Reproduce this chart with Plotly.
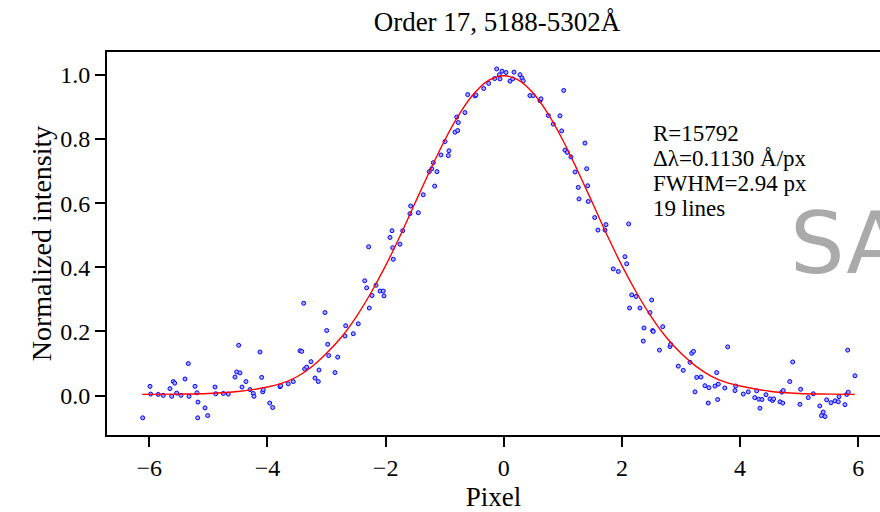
import plotly.graph_objects as go

# ---- data ----
pixel = [
    -6.112, -5.988, -5.977, -5.848, -5.763, -5.650, -5.621, -5.594, -5.570, -5.537,
    -5.464, -5.396, -5.340, -5.328, -5.227, -5.193, -5.176, -5.181, -5.057, -5.012,
    -4.888, -4.876, -4.748, -4.663, -4.550, -4.521, -4.487, -4.465, -4.431, -4.364,
    -4.296, -4.240, -4.228, -4.127, -4.098, -4.081, -4.071, -3.962, -3.912, -3.788,
    -3.776, -3.648, -3.563, -3.449, -3.421, -3.387, -3.370, -3.336, -3.263, -3.196,
    -3.140, -3.128, -3.026, -2.998, -2.981, -2.964, -2.857, -2.811, -2.688, -2.676,
    -2.547, -2.463, -2.354, -2.321, -2.277, -2.231, -2.163, -2.095, -2.040, -2.028,
    -2.287, -1.926, -1.892, -1.880, -1.870, -1.757, -1.711, -1.588, -1.576, -1.447,
    -1.363, -1.261, -1.220, -1.193, -1.170, -1.131, -1.063, -0.995, -0.939, -0.928,
    -0.826, -0.797, -0.780, -0.770, -0.657, -0.611, -0.487, -0.471, -0.340, -0.256,
    -0.154, -0.120, -0.076, -0.064, -0.030, 0.037, 0.105, 0.151, 0.173, 0.274,
    0.308, 0.330, 0.443, 0.499, 0.613, 0.630, 0.753, 0.838, 0.951, 0.980,
    1.014, 1.036, 1.075, 1.137, 1.205, 1.261, 1.273, 1.374, 1.403, 1.420,
    1.430, 1.539, 1.594, 1.713, 1.730, 2.114, 1.853, 1.938, 2.051, 2.080,
    2.165, 2.238, 2.503, 2.128, 2.305, 2.475, 2.373, 2.520, 2.530, 2.690,
    2.361, 2.635, 2.813, 2.825, 2.954, 3.038, 3.152, 3.180, 3.211, 3.236,
    3.265, 3.338, 3.405, 3.461, 3.473, 3.575, 3.604, 3.631, 3.620, 3.741,
    3.790, 3.913, 3.925, 4.054, 4.138, 4.248, 4.281, 4.316, 4.336, 4.370,
    4.438, 4.506, 4.548, 4.568, 4.675, 4.704, 4.731, 4.721, 4.841, 4.890,
    5.013, 5.025, 5.154, 5.239, 5.349, 5.377, 5.406, 5.437, 5.465, 5.538,
    5.606, 5.662, 5.674, 5.775, 5.804, 5.831, 5.821, 5.944,
]
intensity = [
    -0.069, 0.029, 0.005, 0.004, 0.001, 0.022, -0.002, 0.044, 0.039, 0.008,
    0.001, 0.052, 0.100, -0.002, 0.029, 0.009, -0.020, -0.069, -0.038, -0.062,
    0.027, 0.006, 0.007, 0.005, 0.058, 0.074, 0.157, 0.071, 0.027, 0.044,
    0.019, 0.007, -0.002, 0.136, 0.057, 0.012, 0.019, -0.023, -0.037, 0.028,
    0.031, 0.037, 0.044, 0.140, 0.138, 0.288, 0.083, 0.089, 0.106, 0.055,
    0.044, 0.080, 0.259, 0.203, 0.160, 0.125, 0.072, 0.120, 0.186, 0.218,
    0.193, 0.224, 0.358, 0.336, 0.273, 0.312, 0.344, 0.326, 0.326, 0.311,
    0.464, 0.493, 0.514, 0.461, 0.425, 0.472, 0.514, 0.567, 0.591, 0.570,
    0.626, 0.698, 0.707, 0.726, 0.653, 0.698, 0.750, 0.792, 0.748, 0.763,
    0.821, 0.868, 0.826, 0.851, 0.882, 0.938, 0.934, 0.937, 0.957, 0.973,
    0.988, 1.018, 1.000, 0.987, 1.011, 1.007, 0.980, 0.987, 1.008, 1.000,
    0.990, 0.981, 0.935, 0.935, 0.919, 0.925, 0.873, 0.846, 0.872, 0.825,
    0.951, 0.765, 0.758, 0.744, 0.697, 0.649, 0.613, 0.787, 0.707, 0.654,
    0.605, 0.555, 0.516, 0.516, 0.533, 0.535, 0.395, 0.387, 0.433, 0.411,
    0.314, 0.309, 0.298, 0.273, 0.273, 0.259, 0.211, 0.203, 0.200, 0.215,
    0.170, 0.142, 0.153, 0.160, 0.092, 0.079, 0.104, 0.132, 0.138, 0.012,
    0.057, 0.058, 0.031, -0.023, 0.025, 0.030, 0.072, 0.036, -0.012, 0.024,
    0.152, 0.016, 0.030, 0.005, 0.012, -0.006, 0.015, -0.011, -0.039, -0.012,
    0.003, -0.010, -0.015, -0.010, -0.019, 0.011, 0.016, -0.023, 0.044, 0.105,
    -0.027, 0.020, -0.006, 0.006, -0.032, -0.062, -0.051, -0.065, -0.013, -0.022,
    -0.016, -0.019, -0.003, -0.028, 0.004, 0.011, 0.142, 0.062,
]

# fitted profile (red curve)
fit_x = [-6.12, -5.5, -5.0, -4.5, -4.0, -3.75, -3.5, -3.25, -3.0, -2.75,
         -2.5, -2.25, -2.0, -1.75, -1.5, -1.25, -1.0, -0.75, -0.5, -0.25,
         0.0, 0.25, 0.5, 0.75, 1.0, 1.25, 1.5, 1.75, 2.0, 2.25,
         2.5, 2.75, 3.0, 3.25, 3.5, 3.75, 4.0, 4.5, 5.0, 5.5, 5.94]
fit_y = [0.004, 0.005, 0.007, 0.013, 0.027, 0.039, 0.059, 0.090, 0.132, 0.182,
         0.245, 0.320, 0.405, 0.500, 0.601, 0.701, 0.796, 0.878, 0.942, 0.983,
         0.997, 0.983, 0.942, 0.878, 0.796, 0.701, 0.601, 0.500, 0.405, 0.320,
         0.245, 0.182, 0.132, 0.092, 0.062, 0.042, 0.030, 0.014, 0.007, 0.005, 0.004]

x_ticks = [-6, -4, -2, 0, 2, 4, 6]
y_ticks = [0.0, 0.2, 0.4, 0.6, 0.8, 1.0]
title_text = "Order 17, 5188-5302Å"
x_label = "Pixel"
y_label = "Normalized intensity"
info_lines = ["R=15792", "Δλ=0.1130 Å/px", "FWHM=2.94 px", "19 lines"]
watermark = "SAMPLE"

# ---- layout geometry ----
W, H = 880, 512
L, R, T, B = 107, 0, 52, 77
SERIF = "Liberation Serif, Times New Roman, serif"


def paper_x(px):
    return (px - L) / (W - L - R)


def paper_y(py):
    return (H - B - py) / (H - T - B)


fig = go.Figure()
fig.add_trace(go.Scatter(
    x=pixel, y=intensity, mode="markers",
    marker=dict(symbol="circle", size=4, color="#a8a8ff",
                line=dict(color="#0000ff", width=1)),
    showlegend=False, hoverinfo="skip",
))
fig.add_trace(go.Scatter(
    x=fit_x, y=fit_y, mode="lines", line_shape="spline",
    line=dict(color="red", width=1.4),
    showlegend=False, hoverinfo="skip",
))

axis_common = dict(
    showgrid=False, zeroline=False, showline=True, linecolor="black",
    linewidth=2, ticks="outside", ticklen=10, tickwidth=2, tickcolor="black",
    tickfont=dict(family=SERIF, size=24, color="black"),
)

fig.update_layout(
    width=W, height=H,
    margin=dict(l=L, r=R, t=T, b=B, pad=0),
    plot_bgcolor="white", paper_bgcolor="white",
    title=dict(text=title_text, x=497 / W, xanchor="center",
               y=1 - 22 / H, yanchor="middle",
               font=dict(family=SERIF, size=27, color="black")),
    xaxis=dict(range=[-6.716, 6.368], tickvals=x_ticks, mirror=True,
               title=dict(text=x_label, standoff=12,
                          font=dict(family=SERIF, size=27, color="black")),
               **axis_common),
    yaxis=dict(range=[-0.1225, 1.0708], tickvals=y_ticks, tickformat=".1f",
               title=dict(text=y_label, standoff=0,
                          font=dict(family=SERIF, size=28, color="black")),
               **axis_common),
)

line_py = [133, 158, 184, 208]
for txt, py in zip(info_lines, line_py):
    fig.add_annotation(text=txt, xref="paper", yref="paper",
                       x=paper_x(651), y=paper_y(py), xanchor="left",
                       yanchor="middle", showarrow=False,
                       font=dict(family=SERIF, size=23, color="black"))

fig.add_annotation(text=watermark, xref="paper", yref="paper",
                   x=paper_x(788), y=paper_y(243), xanchor="left",
                   yanchor="middle", showarrow=False,
                   font=dict(family="DejaVu Sans, sans-serif", size=86,
                             color="#aaaaaa"))

fig.write_html("out.html")
